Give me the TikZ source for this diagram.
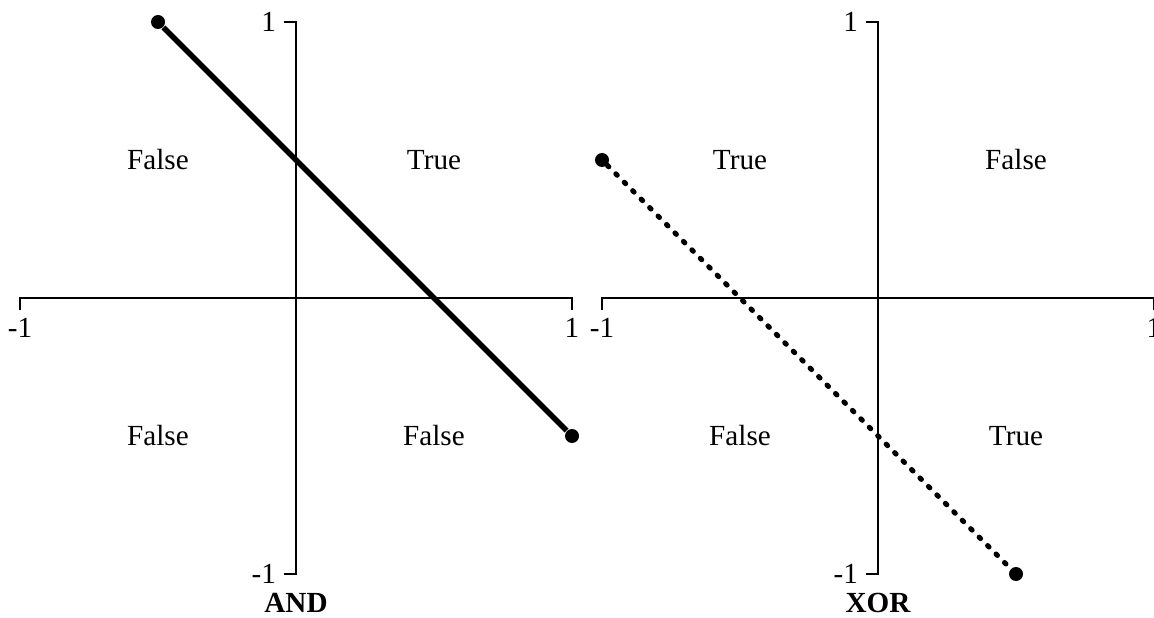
\documentclass[tikz,border=0pt]{standalone}
\usepackage{fontspec}
\setmainfont{Liberation Serif}
\usepackage{tikz}
\usetikzlibrary{positioning}

\begin{document}
\begin{tikzpicture}[
    x=2.76cm, y=2.76cm,
    axis/.style={line width=0.7pt},
    tick/.style={font=\fontsize{8.3}{10}\selectfont, inner sep=2pt},
    region/.style={font=\fontsize{8.3}{10}\selectfont},
    title/.style={font=\fontsize{8.3}{10}\selectfont\bfseries},
    boundary/.style={line width=1.6pt},
    dotboundary/.style={line width=1.5pt, line cap=round, dash pattern=on 0.5pt off 2.9pt},
    enddot/.style={circle, fill, inner sep=0pt, minimum size=0.14cm}
]
    \clip (-1.0725,1.0797) rectangle (3.1087,-1.1594);

    % AND plot
    \draw[axis] (-1,-0.045) -- (-1,0) -- (1,0) -- (1,-0.045);
    \draw[axis] (-0.045,1) -- (0,1) -- (0,-1) -- (-0.045,-1);
    \node[tick, below] (andxmin) at (-1,-0.045) {-1};
    \node[tick, below] (andxmax) at (1,-0.045) {1};
    \node[tick, left] (andymax) at (-0.045,1) {1};
    \node[tick, left] (andymin) at (-0.045,-1) {-1};

    \node[region] (andtl) at (-0.5,0.5) {False};
    \node[region] (andtr) at (0.5,0.5) {True};
    \node[region] (andbl) at (-0.5,-0.5) {False};
    \node[region] (andbr) at (0.5,-0.5) {False};

    \node[enddot] (anda) at (-0.5,1) {};
    \node[enddot] (andb) at (1,-0.5) {};
    \draw[boundary] (anda) -- (andb);

    \node[title] (andlabel) at (0,-1.105) {AND};

    % XOR plot
    \begin{scope}[shift={(2.1087,0)}]
        \draw[axis] (-1,-0.045) -- (-1,0) -- (1,0) -- (1,-0.045);
        \draw[axis] (-0.045,1) -- (0,1) -- (0,-1) -- (-0.045,-1);
        \node[tick, below] (xorxmin) at (-1,-0.045) {-1};
        \node[tick, below] (xorxmax) at (1,-0.045) {1};
        \node[tick, left] (xorymax) at (-0.045,1) {1};
        \node[tick, left] (xorymin) at (-0.045,-1) {-1};

        \node[region] (xortl) at (-0.5,0.5) {True};
        \node[region] (xortr) at (0.5,0.5) {False};
        \node[region] (xorbl) at (-0.5,-0.5) {False};
        \node[region] (xorbr) at (0.5,-0.5) {True};

        \node[enddot] (xora) at (-1,0.5) {};
        \node[enddot] (xorb) at (0.5,-1) {};
        \draw[dotboundary] (xora) -- (xorb);

        \node[title] (xorlabel) at (0,-1.105) {XOR};
    \end{scope}
\end{tikzpicture}
\end{document}
